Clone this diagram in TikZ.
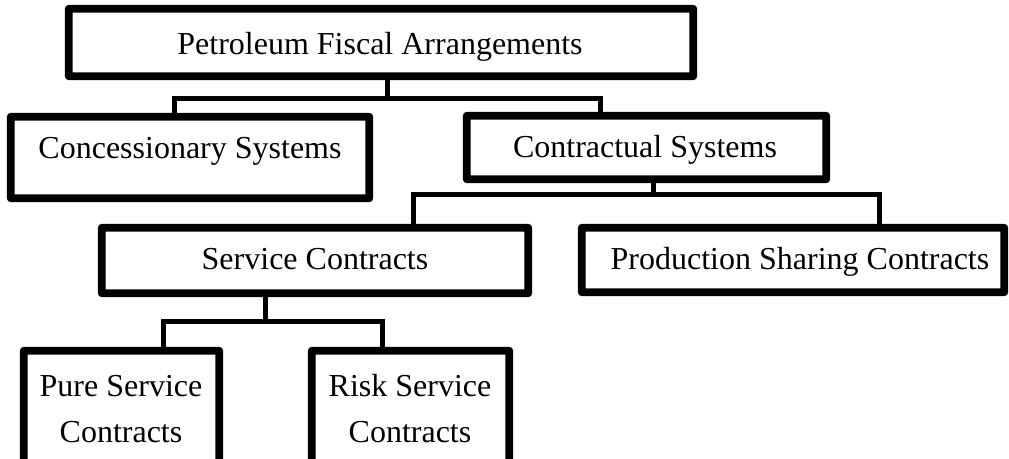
\documentclass[tikz,border=0pt]{standalone}
\usepackage{fontspec}
\setmainfont{Liberation Serif}
\begin{document}
\begin{tikzpicture}[x=0.5pt,y=-0.5pt,
  box/.style={draw=black, line width=2.6pt, rounded corners=1pt, fill=white, inner sep=0pt},
  conn/.style={draw=black, line width=2.5pt},
  lbl/.style={inner sep=0pt, align=center, font=\fontsize{16}{23}\selectfont}]
\useasboundingbox (0,0) rectangle (1009,459);
\clip (0,0) rectangle (1009,459);
% boxes
\node[box, minimum width=311pt, minimum height=32.5pt] (top) at (381,42.5) {};
\node[box, minimum width=178pt, minimum height=39.5pt] (conc) at (190,157.5) {};
\node[box, minimum width=178.5pt, minimum height=30.5pt] (contr) at (646.5,147.5) {};
\node[box, minimum width=212pt, minimum height=31.5pt] (svc) at (315,260.5) {};
\node[box, minimum width=210pt, minimum height=31pt] (psc) at (793,260) {};
\node[box, minimum width=96.5pt, minimum height=61.5pt] (pure) at (121.5,413.5) {};
\node[box, minimum width=97.5pt, minimum height=61.5pt] (risk) at (410.5,413.5) {};
% junction coordinates
\coordinate (b1) at (387,99);
\coordinate (x1) at (174,0);
\coordinate (x2) at (600,0);
\coordinate (b2) at (653,195);
\coordinate (x3) at (413,0);
\coordinate (x4) at (879,0);
\coordinate (b3) at (265,322);
\coordinate (x5) at (163,0);
\coordinate (x6) at (382,0);
% connectors
\draw[conn] (top.south -| b1) -- (b1);
\draw[conn] (conc.north -| x1) |- (b1) -| (contr.north -| x2);
\draw[conn] (contr.south -| b2) -- (b2);
\draw[conn] (svc.north -| x3) |- (b2) -| (psc.north -| x4);
\draw[conn] (svc.south -| b3) -- (b3);
\draw[conn] (pure.north -| x5) |- (b3) -| (risk.north -| x6);
% redraw box borders over connector ends
\foreach \n in {top,conc,contr,svc,psc,pure,risk}{
  \draw[line width=2.6pt, rounded corners=1pt] (\n.north west) rectangle (\n.south east);
}
% labels
\node[lbl, anchor=base] (t0) at (380,55) {Petroleum Fiscal Arrangements};
\node[lbl, anchor=base] (t1) at (190,159) {Concessionary Systems};
\node[lbl, anchor=base] (t2) at (645,158) {Contractual Systems};
\node[lbl, anchor=base] (t3) at (315,270) {Service Contracts};
\node[lbl, anchor=base] (t4) at (800,270) {Production Sharing Contracts};
\node[lbl] (t5) at (121,409) {Pure Service\\Contracts};
\node[lbl] (t6) at (410,409) {Risk Service\\Contracts};
\end{tikzpicture}
\end{document}
